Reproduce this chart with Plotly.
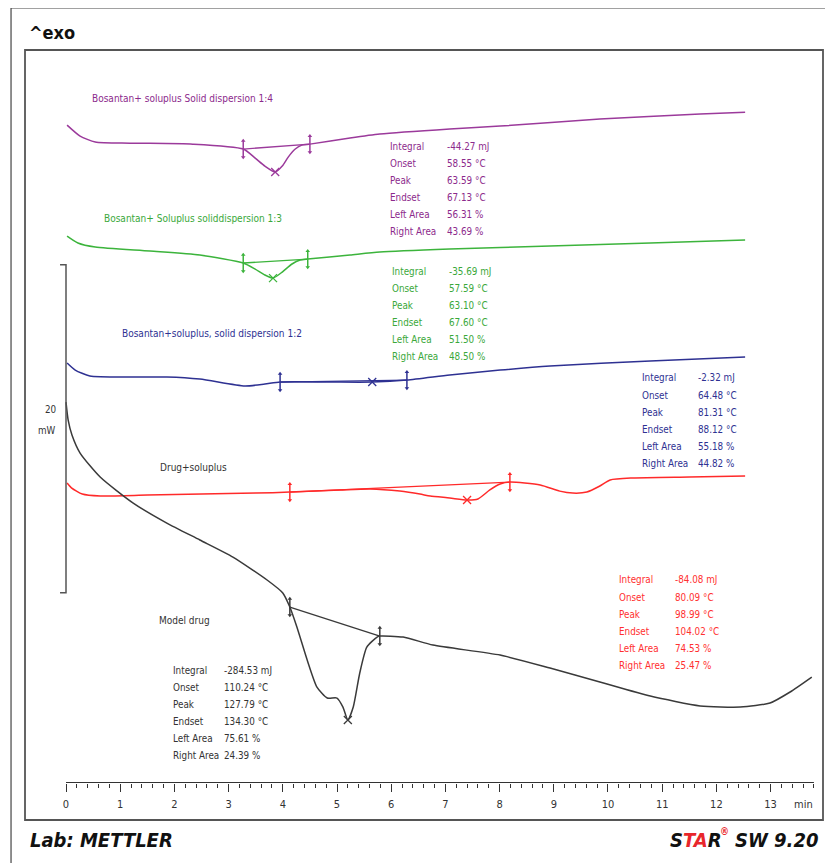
import plotly.graph_objects as go

# ---------------- data (time in min, heat flow in mW, relative offsets) ----------------
purple_t = [0.02, 0.26, 0.54, 1.18, 2.34, 3.27, 3.49, 3.67, 3.86, 3.99, 4.10, 4.23, 4.35, 4.50,
            5.24, 5.79, 7.08, 8.01, 9.85, 11.70, 12.53]
purple_mw = [40.12, 39.45, 39.09, 39.02, 38.96, 38.66, 38.11, 37.62, 37.26, 37.62, 38.17, 38.66, 38.90, 38.96,
             39.33, 39.57, 39.88, 40.06, 40.49, 40.79, 40.91]
purple_lim_t = [3.27, 4.50]
purple_lim_mw = [38.66, 38.96]
purple_peak = (3.86, 37.26)

green_t = [0.02, 0.22, 0.54, 1.55, 2.47, 3.27, 3.49, 3.67, 3.82, 3.99, 4.17, 4.32, 4.46,
           5.24, 5.79, 7.08, 8.93, 10.78, 12.53]
green_mw = [33.35, 32.93, 32.68, 32.44, 32.20, 31.71, 31.34, 30.98, 30.79, 31.16, 31.65, 31.89, 31.95,
            32.20, 32.38, 32.56, 32.74, 32.93, 33.11]
green_lim_t = [3.27, 4.46]
green_lim_mw = [31.71, 31.95]
green_peak = (3.82, 30.79)

blue_t = [0.02, 0.17, 0.44, 1.18, 1.86, 2.47, 3.30, 3.67, 3.95, 4.87, 5.65, 6.29, 7.08, 8.01, 8.93, 10.78, 12.53]
blue_mw = [25.61, 25.18, 24.82, 24.76, 24.76, 24.63, 24.21, 24.33, 24.45, 24.45, 24.45, 24.57, 24.88, 25.18,
           25.43, 25.73, 25.98]
blue_lim_t = [3.95, 6.29]
blue_lim_mw = [24.45, 24.57]
blue_peak = (5.65, 24.45)

red_t = [0.02, 0.10, 0.30, 0.63, 1.50, 2.50, 3.50, 4.13, 5.06, 5.61, 6.16, 6.53, 6.72, 7.08, 7.40, 7.60,
         7.82, 8.01, 8.19, 8.75, 9.11, 9.35, 9.61, 9.85, 10.04, 10.46, 11.50, 12.53]
red_mw = [18.29, 18.00, 17.62, 17.50, 17.56, 17.62, 17.68, 17.74, 17.87, 17.93, 17.80, 17.62, 17.50, 17.38,
          17.26, 17.32, 17.87, 18.23, 18.35, 18.17, 17.80, 17.68, 17.74, 18.11, 18.48, 18.60, 18.66, 18.72]
red_lim_t = [4.13, 8.19]
red_lim_mw = [17.74, 18.35]
red_peak = (7.40, 17.26)

black_t = [0.00, 0.04, 0.11, 0.26, 0.63, 1.24, 1.86, 2.47, 3.08, 3.71, 4.00, 4.13, 4.26, 4.45, 4.63, 4.82,
           5.00, 5.11, 5.20, 5.30, 5.42, 5.55, 5.74, 5.79, 6.22, 6.77, 8.01, 8.93, 9.85, 10.78, 11.70,
           12.44, 12.99, 13.36, 13.76]
black_mw = [23.23, 22.13, 21.22, 20.12, 18.66, 17.07, 15.85, 14.82, 13.78, 12.38, 11.59, 10.73, 9.51, 7.50,
            5.85, 5.18, 5.18, 4.63, 3.84, 4.63, 6.71, 8.29, 8.90, 8.96, 8.90, 8.41, 7.80, 7.01, 6.16, 5.30,
            4.70, 4.63, 4.88, 5.55, 6.46]
black_lim_t = [4.13, 5.79]
black_lim_mw = [10.73, 8.96]
black_peak = (5.20, 3.84)

curve_names = ["Bosantan+ soluplus Solid dispersion 1:4",
               "Bosantan+ Soluplus soliddispersion 1:3",
               "Bosantan+soluplus, solid dispersion 1:2",
               "Drug+soluplus",
               "Model drug"]

row_labels = ["Integral", "Onset", "Peak", "Endset", "Left Area", "Right Area"]
purple_vals = ["-44.27 mJ", "58.55 °C", "63.59 °C", "67.13 °C", "56.31 %", "43.69 %"]
green_vals = ["-35.69 mJ", "57.59 °C", "63.10 °C", "67.60 °C", "51.50 %", "48.50 %"]
blue_vals = ["-2.32 mJ", "64.48 °C", "81.31 °C", "88.12 °C", "55.18 %", "44.82 %"]
red_vals = ["-84.08 mJ", "80.09 °C", "98.99 °C", "104.02 °C", "74.53 %", "25.47 %"]
black_vals = ["-284.53 mJ", "110.24 °C", "127.79 °C", "134.30 °C", "75.61 %", "24.39 %"]

major_ticks = list(range(0, 14))
minor_ticks = [round(i * 0.2, 1) for i in range(0, 70) if i % 5 != 0]

scale_bar_mw = 20
scale_bar_bottom = 11.6

# ---------------- styling ----------------
FONT = "DejaVu Sans Condensed, sans-serif"
C_PURPLE = "#9b3a9b"
C_GREEN = "#3cb43c"
C_BLUE = "#2e3192"
C_RED = "#ff2a2a"
C_BLACK = "#3a3a3a"

T_PURPLE = "#8c2a8c"
T_GREEN = "#3aa83a"
T_BLUE = "#2e3192"
T_RED = "#ff3030"
T_BLACK = "#333333"
STAR_RED = "#e8262b"

fig = go.Figure()

series = [
    (purple_t, purple_mw, purple_lim_t, purple_lim_mw, purple_peak, C_PURPLE),
    (green_t, green_mw, green_lim_t, green_lim_mw, green_peak, C_GREEN),
    (blue_t, blue_mw, blue_lim_t, blue_lim_mw, blue_peak, C_BLUE),
    (red_t, red_mw, red_lim_t, red_lim_mw, red_peak, C_RED),
    (black_t, black_mw, black_lim_t, black_lim_mw, black_peak, C_BLACK),
]

MARK_H = 0.5
for t, mw, lt, lm, pk, col in series:
    fig.add_trace(go.Scatter(x=t, y=mw, mode="lines", line=dict(color=col, width=1.5, shape="spline", smoothing=0.6),
                             hoverinfo="skip", showlegend=False))
    fig.add_trace(go.Scatter(x=lt, y=lm, mode="lines", line=dict(color=col, width=1.3),
                             hoverinfo="skip", showlegend=False))
    for xm, ym in zip(lt, lm):
        fig.add_trace(go.Scatter(x=[xm, xm], y=[ym - MARK_H, ym + MARK_H], mode="lines+markers",
                                 line=dict(color=col, width=1.5),
                                 marker=dict(symbol=["triangle-down", "triangle-up"], size=4, color=col),
                                 hoverinfo="skip", showlegend=False))
    fig.add_trace(go.Scatter(x=[pk[0]], y=[pk[1]], mode="markers",
                             marker=dict(symbol="x-thin", size=8, line=dict(color=col, width=1.3)),
                             hoverinfo="skip", showlegend=False))

# scale bar (20 mW)
fig.add_trace(go.Scatter(x=[-0.11, 0.0, 0.0, -0.11],
                         y=[scale_bar_bottom + scale_bar_mw, scale_bar_bottom + scale_bar_mw,
                            scale_bar_bottom, scale_bar_bottom],
                         mode="lines", line=dict(color="#555555", width=1.5),
                         hoverinfo="skip", showlegend=False))

ann = []
def txt(x, y, s, color, size=9.8, anchor="left", ref="data", weight="normal", style="normal"):
    xr, yr = ("x", "y") if ref == "data" else ("paper", "paper")
    ann.append(dict(x=x, y=y, xref=xr, yref=yr, text=s, showarrow=False, xanchor=anchor,
                    yanchor="middle",
                    font=dict(family=FONT, size=size, color=color, weight=weight, style=style)))

txt(-0.13, 22.8, str(scale_bar_mw), "#333333", anchor="right")
txt(-0.15, 21.5, "mW", "#333333", anchor="right")

label_pos = [(0.44, 41.77, T_PURPLE), (0.66, 34.45, T_GREEN), (1.00, 27.44, T_BLUE),
             (1.70, 19.21, T_BLACK), (1.68, 9.94, T_BLACK)]
for name, (x, y, c) in zip(curve_names, label_pos):
    txt(x, y, name, c, size=10)

ROW = 1.04
tables = [(5.94, 6.99, 38.84, purple_vals, T_PURPLE),
          (5.98, 7.03, 31.22, green_vals, T_GREEN),
          (10.59, 11.62, 24.70, blue_vals, T_BLUE),
          (10.17, 11.20, 12.38, red_vals, T_RED),
          (1.94, 2.88, 6.89, black_vals, T_BLACK)]
for xl, xv, ytop, vals, c in tables:
    for i, (lab, v) in enumerate(zip(row_labels, vals)):
        txt(xl, ytop - i * ROW, lab, c)
        txt(xv, ytop - i * ROW, v, c)

# outside-plot texts (paper coordinates)
txt(0.975, -0.030, "min", "#333333", size=11, anchor="center", ref="paper")
txt(0.0025, 1.0232, "^exo", "#111111", size=18, ref="paper", weight="bold")
txt(0.0038, -0.0778, "Lab: METTLER", "#111111", size=20, ref="paper", weight="bold", style="italic")
txt(0.8747, -0.0778, f"S<span style='color:{STAR_RED}'>TA</span>R", "#111111", size=20, anchor="right",
    ref="paper", weight="bold", style="italic")
txt(0.8690, -0.0665, "®", STAR_RED, size=10, ref="paper", weight="bold")
txt(0.9962, -0.0778, "SW 9.20", "#111111", size=20, anchor="right", ref="paper", weight="bold", style="italic")

shapes = [
    dict(type="rect", xref="paper", yref="paper", x0=0, x1=1, y0=-0.0505, y1=1,
         line=dict(color="#555555", width=1.8)),
    dict(type="line", xref="paper", yref="paper", x0=-0.0175, x1=-0.0175, y0=-0.2, y1=1.0573,
         line=dict(color="#444444", width=1.2)),
    dict(type="line", xref="paper", yref="paper", x0=-0.0175, x1=1.05, y0=1.0573, y1=1.0573,
         line=dict(color="#444444", width=1.2)),
    dict(type="line", xref="x", yref="y", x0=0, x1=13.8, y0=0, y1=0,
         line=dict(color="#333333", width=2)),
]

# page has an 8px body margin: shift everything up/left by 8px
fig.update_layout(
    width=825, height=855,
    margin=dict(l=17, r=10, t=42, b=80),
    paper_bgcolor="white", plot_bgcolor="white",
    annotations=ann, shapes=shapes,
    xaxis=dict(range=[-0.7565, 13.967], showgrid=False, zeroline=False, showline=False,
               tickmode="array", tickvals=major_ticks, ticktext=[str(v) for v in major_ticks],
               ticks="outside", ticklen=8, tickwidth=1.2, tickcolor="#333333",
               ticklabelstandoff=3,
               tickfont=dict(family=FONT, size=11, color="#333333"),
               minor=dict(tickmode="array", tickvals=minor_ticks, ticks="outside", ticklen=4,
                          tickwidth=1, tickcolor="#333333"),
               fixedrange=True),
    yaxis=dict(range=[0, 44.70], visible=False, fixedrange=True),
)

fig.write_html("out.html")
